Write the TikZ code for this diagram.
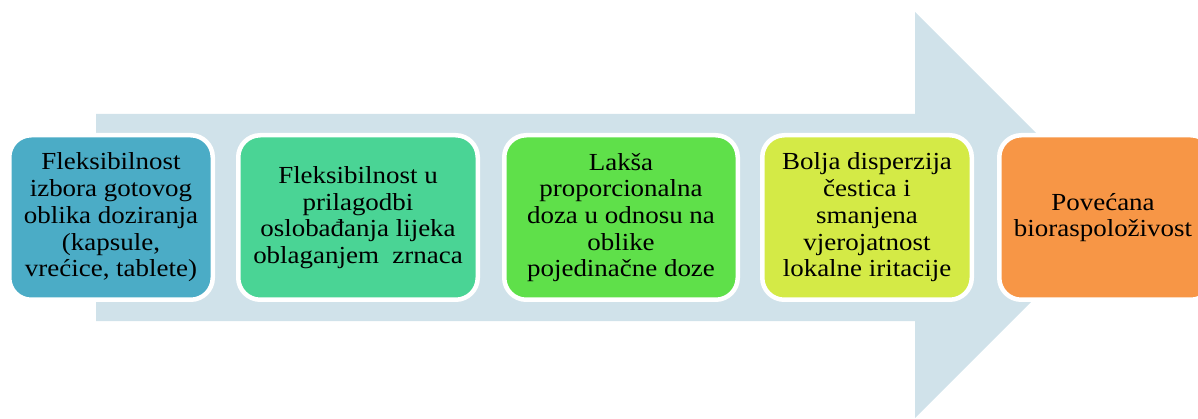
\documentclass[tikz,border=0pt]{standalone}
\usepackage{fontspec}
\setmainfont{Liberation Serif}
\newfontfamily\boxfont[FakeStretch=1.1]{Liberation Serif}
\definecolor{arrowc}{HTML}{D0E2EA}
\definecolor{c1}{HTML}{4BACC6}
\definecolor{c2}{HTML}{4AD495}
\definecolor{c3}{HTML}{5FE04A}
\definecolor{c4}{HTML}{D4EA46}
\definecolor{c5}{HTML}{F79646}
\tikzset{
  boxtext/.style={align=center, inner sep=2pt, text=black,
    font={\boxfont\fontsize{24.5}{26.7}\selectfont}},
  stagebox/.style={boxtext, draw=white, line width=4.5pt, rounded corners=22pt,
    minimum height=164.5pt},
}
\begin{document}
\begin{tikzpicture}[x=1pt,y=-1pt]
\useasboundingbox (0,0) rectangle (1198,419);
\fill[arrowc] (96,114) -- (915,114) -- (915,12) -- (1118,215) -- (915,418) -- (915,321) -- (96,321) -- cycle;
\node[stagebox, fill=c1, minimum width=203.5pt] (b1) at (111,217.5)
  {Fleksibilnost\\izbora gotovog\\oblika doziranja\\(kapsule,\\vrećice, tablete)};
\node[stagebox, fill=c2, minimum width=239.5pt] (b2) at (358,217.5)
  {Fleksibilnost u\\prilagodbi\\oslobađanja lijeka\\oblaganjem~ zrnaca};
\node[stagebox, fill=c3, minimum width=233.5pt] (b3) at (621,217.5)
  {Lakša\\proporcionalna\\doza u odnosu na\\oblike\\pojedinačne doze};
\node[stagebox, fill=c4, minimum width=209.5pt] (b4) at (867,217.5)
  {Bolja disperzija\\čestica i\\smanjena\\vjerojatnost\\lokalne iritacije};
\node[stagebox, fill=c5, minimum width=213.5pt] (b5) at (1106,217.5) {};
\node[boxtext] (t5) at (1103,217.5)
  {Povećana\\bioraspoloživost};
\end{tikzpicture}
\end{document}
